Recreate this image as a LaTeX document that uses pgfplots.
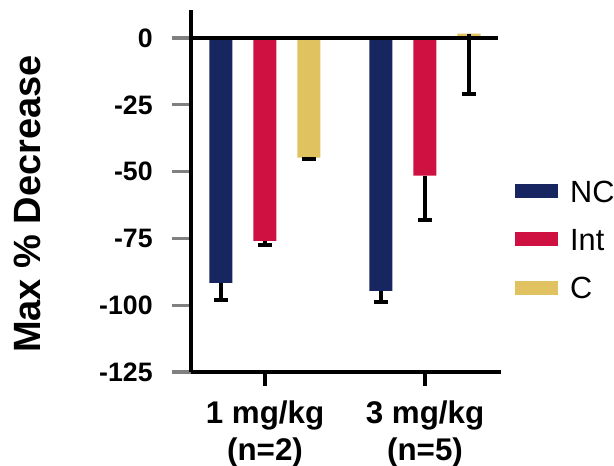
\documentclass[border=0pt]{standalone}
\usepackage{fontspec}
\setmainfont{Liberation Sans}
\usepackage{pgfplots}
\pgfplotsset{compat=1.18}
\definecolor{cNC}{HTML}{172660}
\definecolor{cInt}{HTML}{CF1141}
\definecolor{cC}{HTML}{E0C360}
\begin{document}
\begin{tikzpicture}
\begin{axis}[
  scale only axis,
  width=232.5pt, height=271.5pt,
  xmin=-0.4625, xmax=1.475,
  ymin=-125, ymax=10.5,
  axis lines=left,
  axis line style={-, line width=2.4pt},
  tick align=outside,
  major tick length=14.25pt,
  ytick={0,-25,-50,-75,-100,-125},
  xtick={0,1},
  xticklabels={{1 mg/kg\\(n=2)},{3 mg/kg\\(n=5)}},
  xtick style={draw=none},
  ytick style={line width=2.4pt},
  /pgf/number format/assume math mode=true,
  yticklabel style={font=\bfseries\fontsize{20}{24}\selectfont, xshift=-11pt},
  xticklabel style={font=\bfseries\fontsize{23.5}{28}\selectfont, align=center, yshift=-3.5pt},
  ylabel={Max \% Decrease},
  ylabel style={font=\bfseries\fontsize{28.5}{30}\selectfont, at={(axis description cs:-0.527,0.464)}, anchor=center},
  ybar, bar width=17.25pt, bar shift=0pt,
  clip=false,
  legend style={draw=none, fill=none, at={(axis description cs:1.045,0.531)}, anchor=north west,
    font=\fontsize{23}{23}\selectfont, row sep=19.75pt, column sep=9pt, inner sep=0pt,
    nodes={text height=16.5pt, text depth=0pt, inner sep=0pt}},
  legend cell align=left,
  legend image code/.code={\fill[#1] (0pt,-5.25pt) rectangle (32.25pt,5.25pt);},
  error bars/error bar style={line width=2.4pt, black},
  error bars/error mark options={rotate=90, mark size=5.25pt, line width=3pt, black},
]
\coordinate (O) at (rel axis cs:0,0);
\addplot[fill=cNC, draw=none,
  error bars/.cd, y dir=minus, y explicit]
  coordinates {(-0.275,-91.6) -= (0,6.5) (0.725,-94.6) -= (0,4.3)};
\addlegendentry{NC}
\addplot[fill=cInt, draw=none,
  error bars/.cd, y dir=minus, y explicit]
  coordinates {(0,-75.9) -= (0,1.4) (1,-51.5) -= (0,16.6)};
\addlegendentry{Int}
\addplot[fill=cC, draw=none,
  error bars/.cd, y dir=minus, y explicit]
  coordinates {(0.275,-44.8) -= (0,0.6) (1.275,1.7) -= (0,22.8)};
\addlegendentry{C}
\draw[line width=2.4pt] (axis cs:-0.4625,0) -- (axis cs:1.456,0);
\draw[line width=2.4pt] ([yshift=-10.5pt]axis cs:0,-125) -- (axis cs:0,-125);
\draw[line width=2.4pt] ([yshift=-10.5pt]axis cs:1,-125) -- (axis cs:1,-125);
\end{axis}
\pgfresetboundingbox
\useasboundingbox ([xshift=-143.25pt, yshift=-70.5pt]O) rectangle ++(460.5pt,349.5pt);
\end{tikzpicture}
\end{document}
